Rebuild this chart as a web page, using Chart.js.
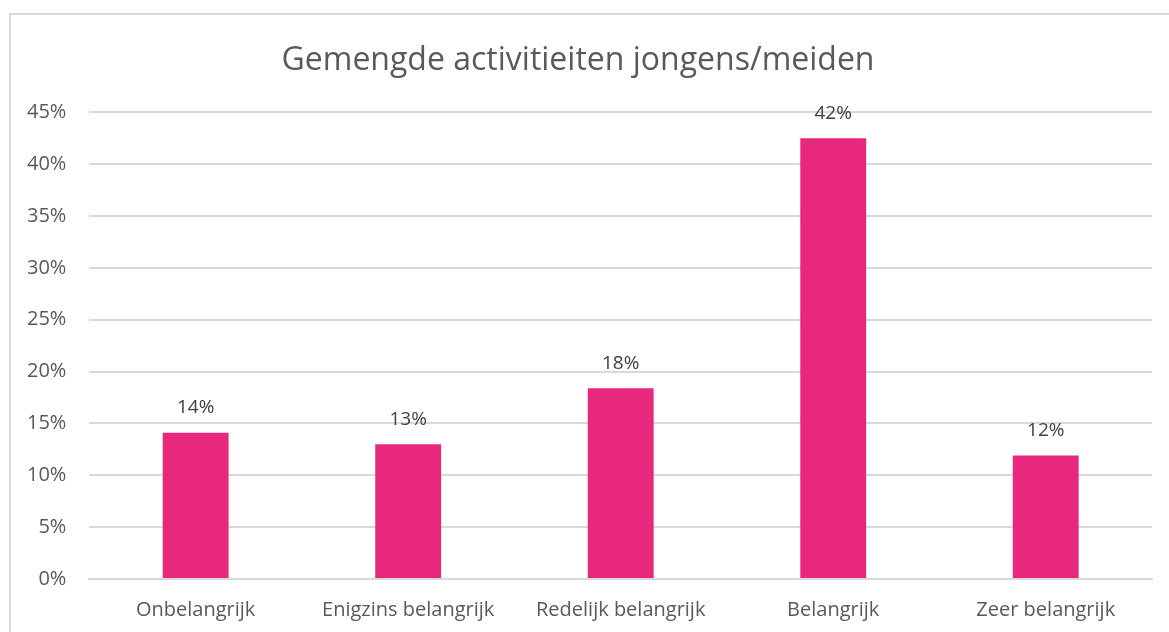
<!DOCTYPE html>
<html>
<head>
<meta charset="utf-8">
<script src="https://cdn.jsdelivr.net/npm/chart.js@4.4.1/dist/chart.umd.min.js"></script>
<style>
    html, body { margin: 0; padding: 0; background: #fff; overflow: hidden; }
    #frame {
        position: absolute; left: 9px; top: 13px;
        width: 1170px; height: 630px;
        border: 2px solid #d9d9d9; box-sizing: border-box;
    }
    #wrap { position: absolute; left: 0; top: 0; width: 1169px; height: 647px; }
</style>
</head>
<body>
<div id="frame"></div>
<div id="wrap"><canvas id="chart"></canvas></div>
<script>
const categories = ["Onbelangrijk", "Enigzins belangrijk", "Redelijk belangrijk", "Belangrijk", "Zeer belangrijk"];
const values = [14.1, 13.0, 18.4, 42.5, 11.9];
const valueLabels = ["14%", "13%", "18%", "42%", "12%"];
const yTicks = [0, 5, 10, 15, 20, 25, 30, 35, 40, 45];

const fontFam = "'Open Sans', sans-serif";

// draw the value labels above each bar
const barLabels = {
    id: 'barLabels',
    afterDatasetsDraw(chart) {
        const ctx = chart.ctx;
        const meta = chart.getDatasetMeta(0);
        ctx.save();
        ctx.font = "19px " + fontFam;
        ctx.fillStyle = '#404040';
        ctx.textAlign = 'center';
        ctx.textBaseline = 'middle';
        meta.data.forEach((bar, i) => {
            ctx.fillText(valueLabels[i], bar.x, bar.y - 25);
        });
        ctx.restore();
    }
};

new Chart(document.getElementById('chart'), {
    type: 'bar',
    data: {
        labels: categories,
        datasets: [{
            data: values,
            backgroundColor: '#E8287C',
            barPercentage: 0.31,
            categoryPercentage: 1
        }]
    },
    options: {
        responsive: true,
        maintainAspectRatio: false,
        animation: false,
        layout: { padding: { left: 4, right: 17, top: 0, bottom: 6 } },
        plugins: {
            legend: { display: false },
            tooltip: { enabled: false },
            title: {
                display: true,
                text: 'Gemengde activitieiten jongens/meiden',
                color: '#595959',
                font: { family: fontFam, size: 32, weight: 'normal' },
                padding: { top: 42, bottom: 32 }
            }
        },
        scales: {
            y: {
                min: 0, max: 45,
                afterBuildTicks: axis => { axis.ticks = yTicks.map(v => ({ value: v })); },
                ticks: {
                    color: '#595959',
                    font: { family: fontFam, size: 20 },
                    padding: 23,
                    callback: v => v + '%'
                },
                grid: { color: '#d9d9d9', lineWidth: 2, drawTicks: false },
                border: { display: false }
            },
            x: {
                ticks: {
                    color: '#595959',
                    font: { family: fontFam, size: 20 },
                    padding: 19,
                    maxRotation: 0
                },
                grid: { display: false, drawTicks: false },
                border: { color: '#d9d9d9', width: 2 }
            }
        }
    },
    plugins: [barLabels]
});
</script>
</body>
</html>
